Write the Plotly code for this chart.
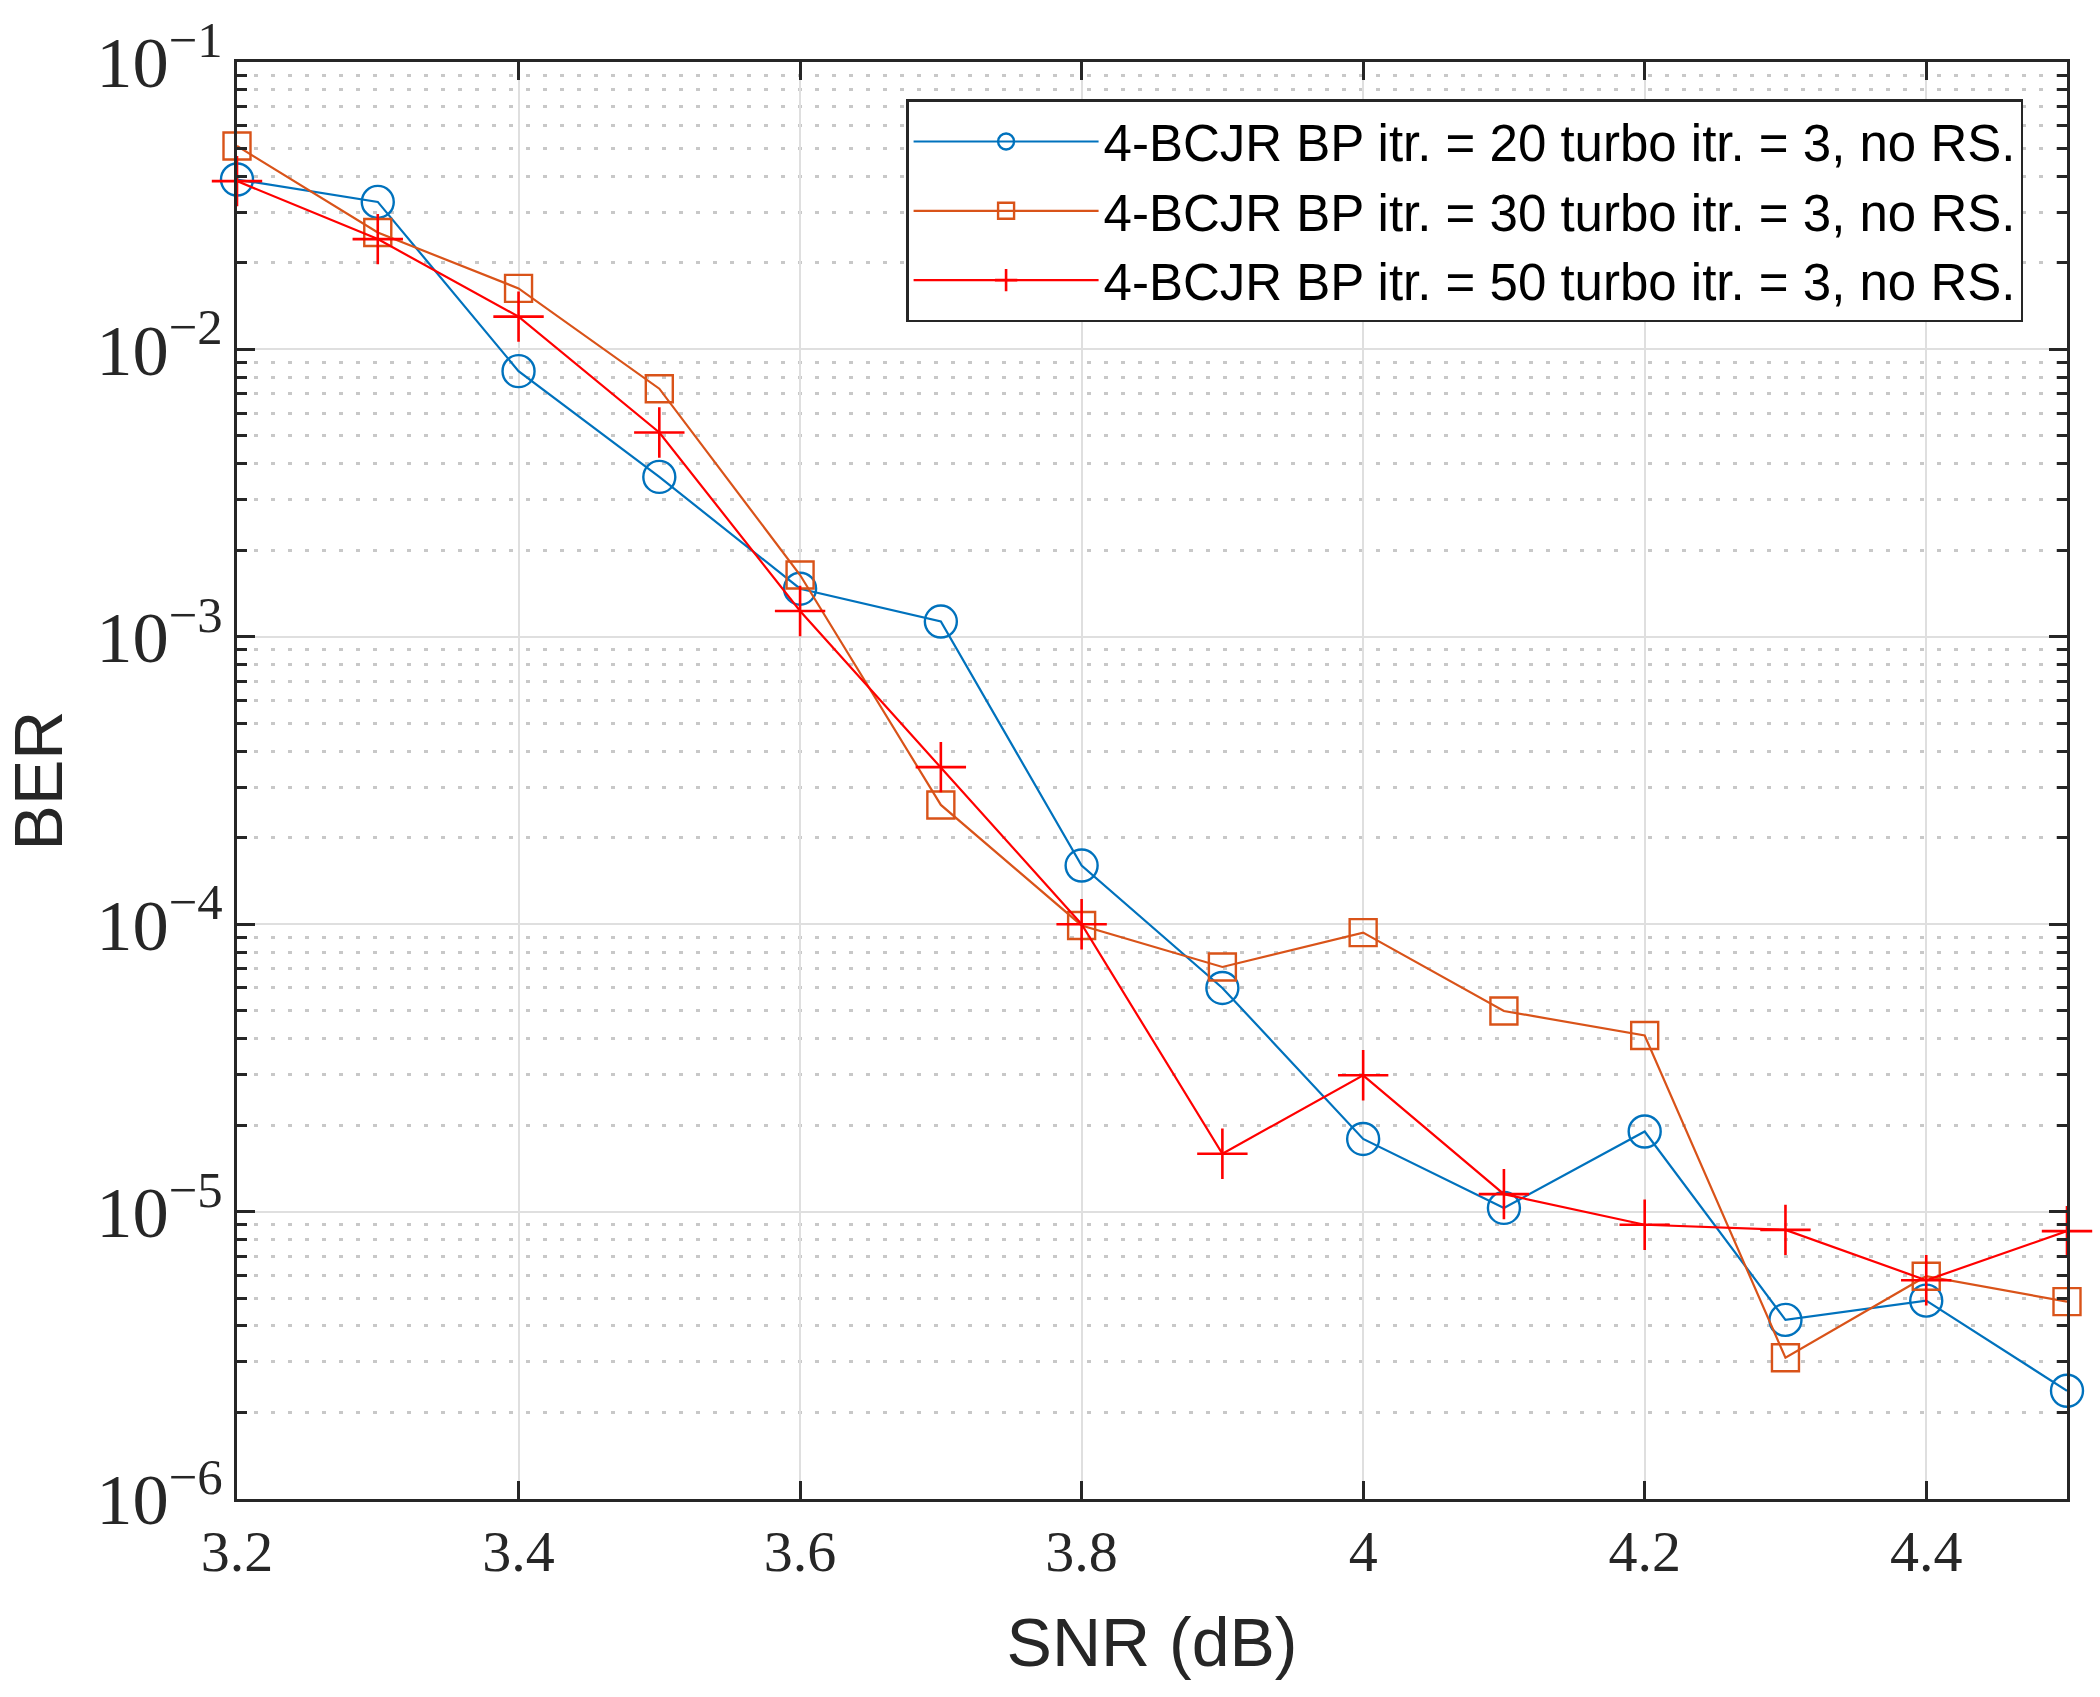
import plotly.graph_objects as go

# SNR points (dB)
snr = [3.2, 3.3, 3.4, 3.5, 3.6, 3.7, 3.8, 3.9, 4.0, 4.1, 4.2, 4.3, 4.4, 4.5]

# BER curves
ber_bp20 = [3.9e-2, 3.26e-2, 8.4e-3, 3.6e-3, 1.47e-3, 1.13e-3, 1.6e-4,
            6.0e-5, 1.79e-5, 1.03e-5, 1.9e-5, 4.2e-6, 4.9e-6, 2.38e-6]
ber_bp30 = [5.1e-2, 2.55e-2, 1.63e-2, 7.3e-3, 1.64e-3, 2.6e-4, 9.9e-5,
            7.1e-5, 9.35e-5, 4.99e-5, 4.1e-5, 3.1e-6, 5.96e-6, 4.86e-6]
ber_bp50 = [3.85e-2, 2.42e-2, 1.3e-2, 5.14e-3, 1.23e-3, 3.52e-4, 1.0e-4,
            1.59e-5, 2.98e-5, 1.15e-5, 9.0e-6, 8.64e-6, 5.77e-6, 8.55e-6]

names = ['4-BCJR BP itr. = 20 turbo itr. = 3, no RS.',
         '4-BCJR BP itr. = 30 turbo itr. = 3, no RS.',
         '4-BCJR BP itr. = 50 turbo itr. = 3, no RS.']

fig = go.Figure()

fig.add_trace(go.Scatter(
    x=snr, y=ber_bp20, name=names[0], mode='lines+markers', cliponaxis=False,
    line=dict(color='#0072BD', width=2.2),
    marker=dict(symbol='circle-open', size=32, color='#0072BD', line=dict(width=2.4))))
fig.add_trace(go.Scatter(
    x=snr, y=ber_bp30, name=names[1], mode='lines+markers', cliponaxis=False,
    line=dict(color='#D95319', width=2.2),
    marker=dict(symbol='square-open', size=27, color='#D95319', line=dict(width=2.4))))
fig.add_trace(go.Scatter(
    x=snr, y=ber_bp50, name=names[2], mode='lines+markers', cliponaxis=False,
    line=dict(color='#FF0000', width=2.2),
    marker=dict(symbol='cross-thin-open', size=36, color='#FF0000', line=dict(width=2.6, color='#FF0000'))))

axis_col = '#262626'
tick_font = dict(family='Liberation Serif', size=58, color=axis_col)
title_font = dict(family='Liberation Sans', size=68, color=axis_col)

fig.update_xaxes(
    range=[3.2, 4.5], tick0=3.2, dtick=0.2,
    showline=True, linecolor=axis_col, linewidth=2.5, mirror='allticks',
    ticks='inside', ticklen=18, tickwidth=2.5, tickcolor=axis_col,
    showgrid=True, gridcolor='#dfdfdf', gridwidth=2,
    zeroline=False, tickfont=tick_font,
    title=dict(text='SNR (dB)', font=title_font, standoff=36))

fig.update_yaxes(
    type='log', range=[-6, -1], dtick=1, exponentformat='power',
    showline=True, linecolor=axis_col, linewidth=2.5, mirror='allticks',
    ticks='inside', ticklen=18, tickwidth=2.5, tickcolor=axis_col,
    showgrid=True, gridcolor='#dfdfdf', gridwidth=2,
    minor=dict(dtick='D1', ticks='inside', ticklen=10, tickwidth=2.5, tickcolor=axis_col,
               showgrid=True, gridcolor='#c8c8c8', gridwidth=2.5, griddash='4px,13px'),
    zeroline=False, tickfont=tick_font,
    title=dict(text='BER', font=title_font, standoff=24))

fig.update_layout(
    width=2100, height=1697,
    margin=dict(l=237, r=33, t=52, b=198),
    plot_bgcolor='white', paper_bgcolor='white',
    legend=dict(x=0.976, y=0.974, xanchor='right', yanchor='top',
                bgcolor='white', bordercolor=axis_col, borderwidth=2.5,
                font=dict(family='Liberation Sans', size=51, color='black'),
                itemwidth=185),
)

# drop the default 8px page margin so the figure sits at the window corner
fig.write_html("out.html", config={'displayModeBar': False},
               post_script="document.body.style.margin='0px';")
